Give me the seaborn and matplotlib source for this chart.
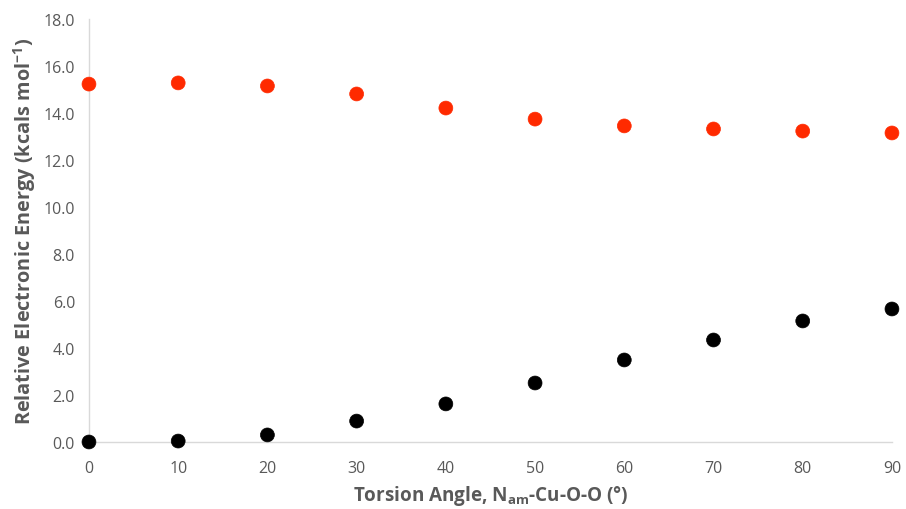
import matplotlib
matplotlib.use("Agg")
import matplotlib.pyplot as plt
import seaborn as sns
import pandas as pd

angles = [0, 10, 20, 30, 40, 50, 60, 70, 80, 90]
upper_state = [15.23, 15.28, 15.15, 14.81, 14.21, 13.74, 13.45, 13.32, 13.23, 13.15]
lower_state = [0.00, 0.04, 0.30, 0.89, 1.62, 2.51, 3.49, 4.34, 5.15, 5.66]
y_ticks = [0, 2, 4, 6, 8, 10, 12, 14, 16, 18]
x_ticks = [0, 10, 20, 30, 40, 50, 60, 70, 80, 90]

sns.set_theme(style="white")
plt.rcParams["font.family"] = ["Open Sans", "DejaVu Sans"]
plt.rcParams["mathtext.default"] = "regular"

df = pd.DataFrame({
    "angle": angles * 2,
    "energy": upper_state + lower_state,
    "state": ["upper"] * len(angles) + ["lower"] * len(angles),
})

fig = plt.figure(figsize=(9.06, 5.10), dpi=100)
ax = fig.add_axes([0.0982, 0.1314, 0.8863, 0.8294])

sns.scatterplot(data=df, x="angle", y="energy", hue="state",
                palette={"upper": "#ff2a00", "lower": "#000000"},
                s=100, edgecolor="face", linewidth=0.5, legend=False,
                ax=ax, zorder=3, clip_on=False)

text_color = "#595959"
axis_color = "#d9d9d9"

ax.set_xlim(0, 90)
ax.set_ylim(0, 18)
ax.set_xticks(x_ticks)
ax.set_yticks(y_ticks)
ax.set_xticklabels([str(v) for v in x_ticks])
ax.set_yticklabels([f"{v:.1f}" for v in y_ticks])
ax.tick_params(axis="x", colors=text_color, labelsize=11.5, length=5,
               width=1, direction="out", pad=8)
ax.tick_params(axis="x", color=axis_color)
ax.tick_params(axis="y", colors=text_color, labelsize=11.5, length=0, pad=10)

for side in ["top", "right"]:
    ax.spines[side].set_visible(False)
for side in ["left", "bottom"]:
    ax.spines[side].set_color(axis_color)
    ax.spines[side].set_linewidth(1)

ax.set_xlabel("Torsion Angle, N$_{am}$-Cu-O-O (°)", fontsize=13.6,
              fontweight="bold", color=text_color, labelpad=5)
ax.set_ylabel("Relative Electronic Energy (kcals mol$^{-1}$)", fontsize=14.3,
              fontweight="bold", color=text_color, labelpad=4)

fig.savefig("out.png", dpi=100, facecolor="white")
